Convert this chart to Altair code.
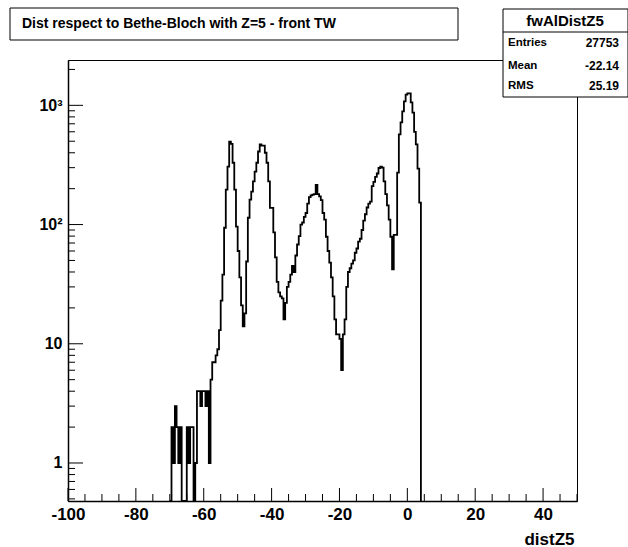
import altair as alt
import pandas as pd

# ---- histogram contents (0.5-wide bins, first bin starts at -70) ----
bin_start = -70.0
bin_width = 0.5
counts = [
    0, 2, 1, 3, 2, 1, 2, 0, 0, 0,            # -70.0 .. -65.5
    2, 1, 2, 2, 0, 1, 4, 4, 3, 4,            # -65.0 .. -60.5
    4, 3, 4, 1, 5, 7, 7, 8, 9, 13,           # -60.0 .. -55.5
    23, 38, 94, 196, 306, 495, 475, 330, 196, 96,   # -55.0 .. -50.5
    60, 36, 21, 14, 18, 49, 114, 162, 189, 230,     # -50.0 .. -45.5
    278, 330, 410, 470, 460, 460, 400, 330, 230, 138,  # -45.0 .. -40.5
    138, 86, 53, 33, 27, 25, 24, 16, 22, 30,        # -40.0 .. -35.5
    33, 38, 45, 40, 55, 68, 80, 100, 104, 116,      # -35.0 .. -30.5
    125, 150, 170, 176, 178, 180, 215, 180, 172, 160,  # -30.0 .. -25.5
    125, 110, 79, 60, 48, 36, 25, 16, 12, 12,       # -25.0 .. -20.5
    11, 6, 12, 16, 30, 40, 43, 47, 50, 58,          # -20.0 .. -15.5
    63, 72, 76, 90, 108, 122, 139, 150, 156, 210,   # -15.0 .. -10.5
    228, 251, 268, 298, 306, 300, 230, 180, 145, 110,  # -10.0 .. -5.5
    79, 42, 82, 82, 273, 570, 720, 890, 1080, 1230,    # -5.0 .. -0.5
    1260, 1260, 1060, 870, 600, 470, 295, 153,         # 0.0 .. 3.5
]

# ---- axis ticks ----
x_labels = [-100, -80, -60, -40, -20, 0, 20, 40]
x_minor = [v for v in range(-100, 51, 5) if v not in x_labels]
y_labels = [1, 10, 100, 1000]
y_minor = ([0.5, 0.6, 0.7, 0.8, 0.9]
           + [m * d for d in (1, 10, 100) for m in range(2, 10)]
           + [2000])

# ---- stats box text ----
hist_name = "fwAlDistZ5"
stat_names = ["Entries", "Mean", "RMS"]
stat_values = ["27753", "-22.14", "25.19"]
title_text = "Dist respect to Bethe-Bloch with Z=5 - front TW"

W, H = 509, 441
FONT = "Liberation Sans"

edges = [bin_start + i * bin_width for i in range(len(counts) + 1)]
levels = counts + [0]
hist = pd.DataFrame({
    "x": edges,
    # empty bins are pushed below the axis minimum (clamped to the bottom)
    "n": [v if v > 0 else 0.1 for v in levels],
    "i": list(range(len(edges))),
})

x_scale = alt.Scale(domain=[-100, 50], nice=False, zero=False)
y_scale = alt.Scale(type="log", domain=[0.48, 2400], nice=False, clamp=True)

x_axis = alt.Axis(
    values=x_labels, ticks=False, grid=False, labelExpr="'' + datum.value",
    labelFlush=False, labelFont=FONT, labelFontSize=17, labelFontWeight="bold",
    labelColor="black", labelPadding=5,
    domainColor="black", domainWidth=1.5,
    title="distZ5", titleFont=FONT, titleFontSize=17,
    titleFontWeight="bold", titleColor="black",
    titleX=W - 3, titleY=43, titleAlign="right", titleBaseline="alphabetic",
)
y_label_expr = ("datum.value == 1 ? '1' : datum.value == 10 ? '10' : "
                "datum.value == 100 ? '10\u00b2' : '10\u00b3'")
y_axis = alt.Axis(
    values=y_labels, labelExpr=y_label_expr, ticks=False, grid=False,
    labelFont=FONT, labelFontSize=16, labelFontWeight="bold",
    labelColor="black", labelPadding=6,
    domainColor="black", domainWidth=1.5, title=None,
)

line = alt.Chart(hist).mark_line(
    interpolate="step-after", color="black", strokeWidth=1.8, clip=True
).encode(
    x=alt.X("x:Q", scale=x_scale, axis=x_axis),
    y=alt.Y("n:Q", scale=y_scale, axis=y_axis),
    order="i:Q",
)

xt_major = alt.Chart(pd.DataFrame({"x": x_labels})).mark_rule(
    color="black", strokeWidth=1
).encode(x=alt.X("x:Q", scale=x_scale, axis=x_axis),
         y=alt.value(H), y2=alt.value(H - 13))
xt_minor = alt.Chart(pd.DataFrame({"x": x_minor})).mark_rule(
    color="black", strokeWidth=1
).encode(x=alt.X("x:Q", scale=x_scale, axis=x_axis),
         y=alt.value(H), y2=alt.value(H - 7))

yt_major = alt.Chart(pd.DataFrame({"n": y_labels})).mark_rule(
    color="black", strokeWidth=1
).encode(y=alt.Y("n:Q", scale=y_scale, axis=y_axis),
         x=alt.value(0), x2=alt.value(15))
yt_minor = alt.Chart(pd.DataFrame({"n": y_minor})).mark_rule(
    color="black", strokeWidth=1
).encode(y=alt.Y("n:Q", scale=y_scale, axis=y_axis),
         x=alt.value(0), x2=alt.value(7))

one = pd.DataFrame({"k": [0]})

# title pave
title_box = alt.Chart(one).mark_rect(
    fill="white", stroke="black", strokeWidth=1
).encode(x=alt.value(-58), x2=alt.value(390), y=alt.value(-52), y2=alt.value(-20))
title_lbl = alt.Chart(one).mark_text(
    text=title_text, font=FONT, fontSize=14, fontWeight="bold",
    align="left", baseline="middle", color="black"
).encode(x=alt.value(-46), y=alt.value(-36))

# statistics pave
stats_box = alt.Chart(one).mark_rect(
    fill="white", stroke="black", strokeWidth=1
).encode(x=alt.value(435), x2=alt.value(560), y=alt.value(-51), y2=alt.value(37))
stats_div = alt.Chart(one).mark_rule(color="black", strokeWidth=1).encode(
    x=alt.value(435), x2=alt.value(560), y=alt.value(-28))
stats_name = alt.Chart(one).mark_text(
    text=hist_name, font=FONT, fontSize=15, fontWeight="bold",
    align="center", baseline="middle", color="black"
).encode(x=alt.value(497), y=alt.value(-39))

stats_layers = []
for row_y, key, val in zip([-17, 6, 26], stat_names, stat_values):
    stats_layers.append(alt.Chart(one).mark_text(
        text=key, font=FONT, fontSize=11.5, fontWeight="bold", align="left",
        baseline="middle", color="black"
    ).encode(x=alt.value(440), y=alt.value(row_y)))
    stats_layers.append(alt.Chart(one).mark_text(
        text=val, font=FONT, fontSize=12, fontWeight="bold", align="right",
        baseline="middle", color="black"
    ).encode(x=alt.value(551), y=alt.value(row_y)))

chart = alt.layer(
    line, xt_major, xt_minor, yt_major, yt_minor,
    title_box, title_lbl,
    stats_box, stats_div, stats_name, *stats_layers,
).properties(
    width=W, height=H,
    autosize=alt.AutoSizeParams(type="none"),
    padding={"left": 68, "top": 60, "right": 51, "bottom": 46},
    background="white",
).configure_view(stroke="black", strokeWidth=1)

chart.save("out.html", embed_options={"renderer": "svg", "actions": False})
